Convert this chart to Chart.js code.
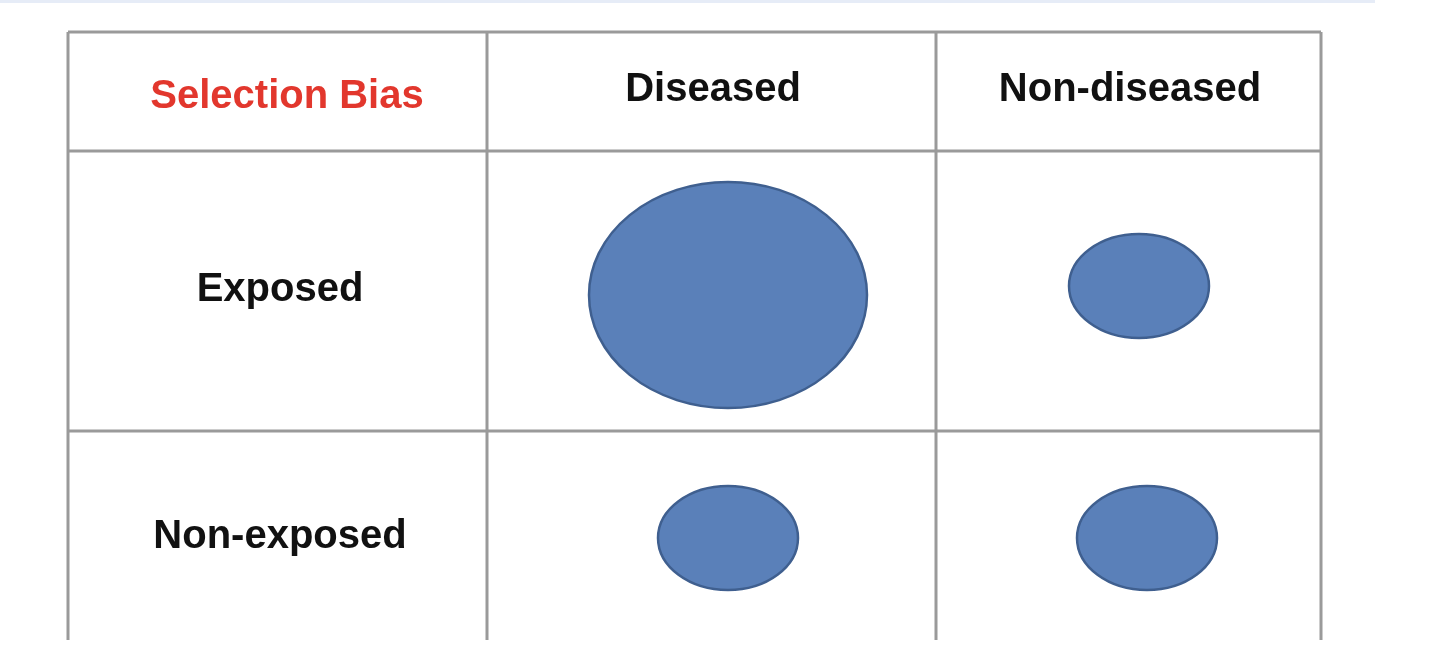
<!DOCTYPE html>
<html><head><meta charset="utf-8">
<script src="https://cdn.jsdelivr.net/npm/chart.js@4"></script>
<style>html,body{margin:0;padding:0;background:#fff;overflow:hidden}#w{width:1440px;height:671px}</style>
</head><body><div id="w"><canvas id="c"></canvas></div>
<script>
const colBounds=[68,487,936,1321];
const rowBounds=[32,151,431,640];
const headerLabels=["Selection Bias","Diseased","Non-diseased"];
const headerX=[287,713,1130];
const headerY=[97,90,90];
const rowLabels=["Exposed","Non-exposed"];
const rowLabelX=[280,280];
const rowLabelY=[290,537];
const ellipseX=[728,1139,728,1147];
const ellipseY=[295,286,538,538];
const ellipseRX=[139,70,70,70];
const ellipseRY=[113,52,52,52];

const tablePlugin={id:'table',
 beforeDatasetsDraw(ch){
  const c=ch.ctx,x=ch.scales.x,y=ch.scales.y;
  c.save();
  c.fillStyle='#e6ecf7';c.fillRect(x.getPixelForValue(0),y.getPixelForValue(0),x.getPixelForValue(1375)-x.getPixelForValue(0),3);
  c.strokeStyle='#9a9a9a';c.lineWidth=3;
  colBounds.forEach(v=>{c.beginPath();c.moveTo(x.getPixelForValue(v),y.getPixelForValue(rowBounds[0]));c.lineTo(x.getPixelForValue(v),y.getPixelForValue(rowBounds[3]));c.stroke();});
  rowBounds.slice(0,3).forEach(v=>{c.beginPath();c.moveTo(x.getPixelForValue(colBounds[0]),y.getPixelForValue(v));c.lineTo(x.getPixelForValue(colBounds[3]),y.getPixelForValue(v));c.stroke();});
  c.textAlign='center';c.textBaseline='middle';c.font='bold 40px "Liberation Sans", Arial, sans-serif';
  headerLabels.forEach((t,i)=>{c.fillStyle=i===0?'#e2372d':'#111';c.fillText(t,x.getPixelForValue(headerX[i]),y.getPixelForValue(headerY[i]));});
  c.fillStyle='#111';
  rowLabels.forEach((t,i)=>c.fillText(t,x.getPixelForValue(rowLabelX[i]),y.getPixelForValue(rowLabelY[i])));
  ellipseX.forEach((v,i)=>{
   const cx=x.getPixelForValue(v),cy=y.getPixelForValue(ellipseY[i]);
   const rx=Math.abs(x.getPixelForValue(v+ellipseRX[i])-cx),ry=Math.abs(y.getPixelForValue(ellipseY[i]+ellipseRY[i])-cy);
   c.beginPath();c.ellipse(cx,cy,rx,ry,0,0,Math.PI*2);c.fillStyle='#5a80b9';c.fill();c.lineWidth=2.5;c.strokeStyle='#3f5f8f';c.stroke();
  });
  c.restore();
 }};
new Chart(document.getElementById('c'),{type:'scatter',
 data:{datasets:[{data:ellipseX.map((v,i)=>({x:v,y:ellipseY[i]})),pointRadius:0}]},
 options:{responsive:true,maintainAspectRatio:false,animation:false,
  layout:{padding:0},
  plugins:{legend:{display:false},tooltip:{enabled:false}},
  scales:{x:{type:'linear',min:0,max:1440,display:false},y:{type:'linear',min:0,max:671,reverse:true,display:false}}},
 plugins:[tablePlugin]});
</script></body></html>
